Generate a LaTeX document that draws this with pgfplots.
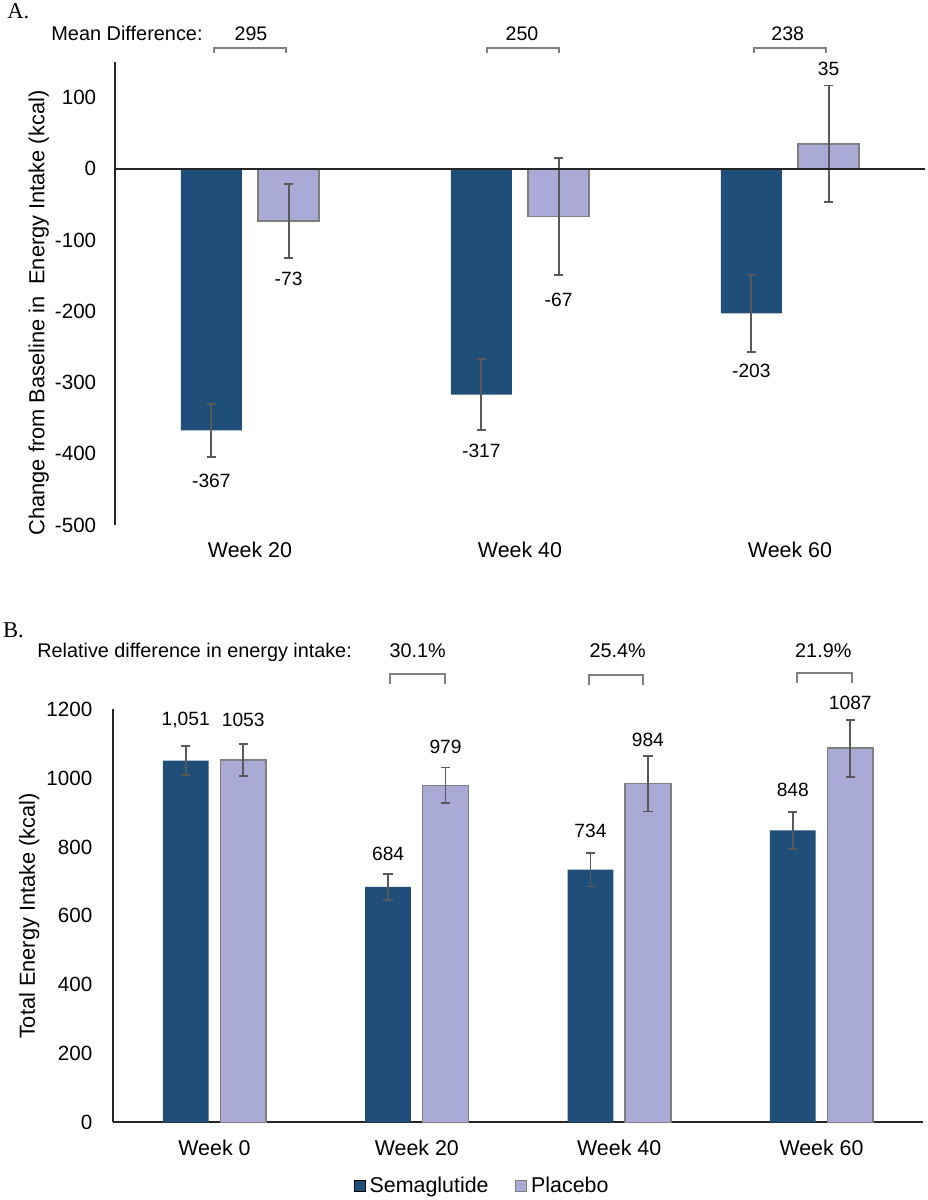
\documentclass[border=0pt]{standalone}
\usepackage{fontspec}
\setmainfont{Liberation Sans}
\newfontfamily\seriffont{Liberation Serif}
\usepackage{pgfplots}
\pgfplotsset{compat=1.18}
\definecolor{sema}{HTML}{1F4E79}
\definecolor{plac}{HTML}{AAAAD6}
\definecolor{placedge}{HTML}{7F7F7F}
\definecolor{errc}{HTML}{595959}
\definecolor{brk}{HTML}{808080}
\definecolor{axc}{HTML}{262626}
\newcommand{\fs}[1]{\fontsize{#1}{#1}\selectfont}
\pgfplotsset{
  mybars/.style={
    scale only axis, ybar, bar width=0.226,
    axis lines*=left,
    axis line style={line width=1pt, axc},
    major tick length=0pt,
    tick label style={font=\fs{10.3}},
    clip=false,
    error bars/y dir=both, error bars/y explicit,
    error bars/error bar style={line width=0.9pt, errc},
    error bars/error mark options={rotate=90, line width=0.9pt, errc, mark size=2.3pt},
  }
}
\begin{document}
\begin{tikzpicture}
\path[use as bounding box] (0pt,0pt) rectangle (463.5pt,600pt);

% ---------------- Panel A ----------------
\begin{axis}[mybars, at={(57.5pt,337.5pt)}, anchor=south west,
  width=405pt, height=231.5pt,
  xmin=-0.5, xmax=2.5, ymin=-500, ymax=150,
  ytick={-500,-400,-300,-200,-100,0,100},
  yticklabels={-500,-400,-300,-200,-100,0,100},
  xtick={0,1,2}, xticklabels={Week 20,Week 40,Week 60},
  x axis line style={draw=none},
  xticklabel style={anchor=base, yshift=-16.25pt, font=\fs{10.7}},
  yticklabel style={anchor=east, inner sep=0pt, xshift=-9.2pt},
]
\addplot[fill=sema, draw=none, bar shift=-0.143] coordinates
  {(0,-367) +- (0,37) (1,-317) +- (0,50) (2,-203) +- (0,54)};
\addplot[fill=plac, draw=placedge, line width=0.75pt, bar shift=0.143] coordinates
  {(0,-73) +- (0,52) (1,-67) +- (0,82) (2,35) +- (0,82)};
\draw[line width=1pt, axc] (axis cs:-0.5,0) -- (axis cs:2.5,0);
\node[font=\fs{9.6}, inner sep=0] at (axis cs:-0.143,-437.8) {-367};
\node[font=\fs{9.6}, inner sep=0] at (axis cs:0.143,-154.5) {-73};
\node[font=\fs{9.6}, inner sep=0] at (axis cs:0.857,-396) {-317};
\node[font=\fs{9.6}, inner sep=0] at (axis cs:1.143,-184) {-67};
\node[font=\fs{9.6}, inner sep=0] at (axis cs:1.857,-283.3) {-203};
\node[font=\fs{9.6}, inner sep=0] at (axis cs:2.143,140.4) {35};
\end{axis}

\node[anchor=base west, inner sep=0, font=\seriffont\fs{11.3}] at (3.5pt,590.85pt) {A.};
\node[anchor=base west, inner sep=0, font=\fs{9.95}] at (25.5pt,579.65pt) {Mean Difference:};
\node[anchor=base, inner sep=0, font=\fs{9.8}] at (125.5pt,579.65pt) {295};
\node[anchor=base, inner sep=0, font=\fs{9.8}] at (261pt,579.65pt) {250};
\node[anchor=base, inner sep=0, font=\fs{9.8}] at (393.85pt,579.65pt) {238};
\draw[brk, line width=1pt] (107pt,573.5pt) -- (107pt,576.15pt) -- (142.85pt,576.15pt) -- (142.85pt,573.5pt);
\draw[brk, line width=1pt] (243.5pt,573.5pt) -- (243.5pt,576.15pt) -- (279.35pt,576.15pt) -- (279.35pt,573.5pt);
\draw[brk, line width=1pt] (377pt,573.5pt) -- (377pt,576.15pt) -- (412.85pt,576.15pt) -- (412.85pt,573.5pt);
\node[rotate=90, anchor=base, inner sep=0, font=\fs{10.9}] at (22.15pt,443.5pt)
  {Change from Baseline in\ \ Energy Intake (kcal)};

% ---------------- Panel B ----------------
\begin{axis}[mybars, at={(56.65pt,38.85pt)}, anchor=south west,
  width=404.7pt, height=206.5pt,
  xmin=-0.5, xmax=3.5, ymin=0, ymax=1200,
  ytick={0,200,400,600,800,1000,1200},
  yticklabels={0,200,400,600,800,1000,1200},
  xtick={0,1,2,3}, xticklabels={Week 0,Week 20,Week 40,Week 60},
  xticklabel style={anchor=base, yshift=-16.6pt, font=\fs{10.7}},
  yticklabel style={anchor=east, inner sep=0pt, xshift=-10.3pt},
  legend columns=2,
  legend style={draw=none, fill=none, at={(0.457,-0.154)}, anchor=center,
    font=\fs{10.7}, /tikz/every even column/.append style={column sep=11pt}},
  legend image code/.code={\draw[#1] (-1.5pt,-2.75pt) rectangle (4pt,2.75pt);},
]
\addplot[fill=sema, draw=none, bar shift=-0.142] coordinates
  {(0,1051) +- (0,42) (1,684) +- (0,37) (2,734) +- (0,49) (3,848) +- (0,53)};
\addplot[fill=plac, draw=placedge, line width=0.75pt, bar shift=0.142] coordinates
  {(0,1053) +- (0,47) (1,979) +- (0,52) (2,984) +- (0,81) (3,1087) +- (0,83)};
\legend{Semaglutide, Placebo}
\node[font=\fs{9.6}, inner sep=0] at (axis cs:-0.142,1168) {1,051};
\node[font=\fs{9.6}, inner sep=0] at (axis cs:0.142,1168) {1053};
\node[font=\fs{9.6}, inner sep=0] at (axis cs:0.858,778.7) {684};
\node[font=\fs{9.6}, inner sep=0] at (axis cs:1.142,1090.5) {979};
\node[font=\fs{9.6}, inner sep=0] at (axis cs:1.858,846.4) {734};
\node[font=\fs{9.6}, inner sep=0] at (axis cs:2.142,1110.8) {984};
\node[font=\fs{9.6}, inner sep=0] at (axis cs:2.858,965.5) {848};
\node[font=\fs{9.6}, inner sep=0] at (axis cs:3.142,1219.5) {1087};
\end{axis}

\node[anchor=base west, inner sep=0, font=\seriffont\fs{11.3}] at (1.35pt,281.15pt) {B.};
\node[anchor=base west, inner sep=0, font=\fs{9.9}] at (18.5pt,271.15pt) {Relative difference in energy intake:};
\node[anchor=base, inner sep=0, font=\fs{9.9}] at (208.85pt,271.15pt) {30.1\%};
\node[anchor=base, inner sep=0, font=\fs{9.9}] at (308.85pt,271.15pt) {25.4\%};
\node[anchor=base, inner sep=0, font=\fs{9.9}] at (411.65pt,271.15pt) {21.9\%};
\draw[brk, line width=1pt] (195pt,257.85pt) -- (195pt,263pt) -- (222.5pt,263pt) -- (222.5pt,257.85pt);
\draw[brk, line width=1pt] (294.35pt,257.5pt) -- (294.35pt,262.5pt) -- (321.65pt,262.5pt) -- (321.65pt,257.5pt);
\draw[brk, line width=1pt] (398.35pt,258.5pt) -- (398.35pt,263.5pt) -- (425.85pt,263.5pt) -- (425.85pt,258.5pt);
\node[rotate=90, anchor=base, inner sep=0, font=\fs{10.9}] at (17.5pt,142pt)
  {Total Energy Intake (kcal)};
\end{tikzpicture}
\end{document}
